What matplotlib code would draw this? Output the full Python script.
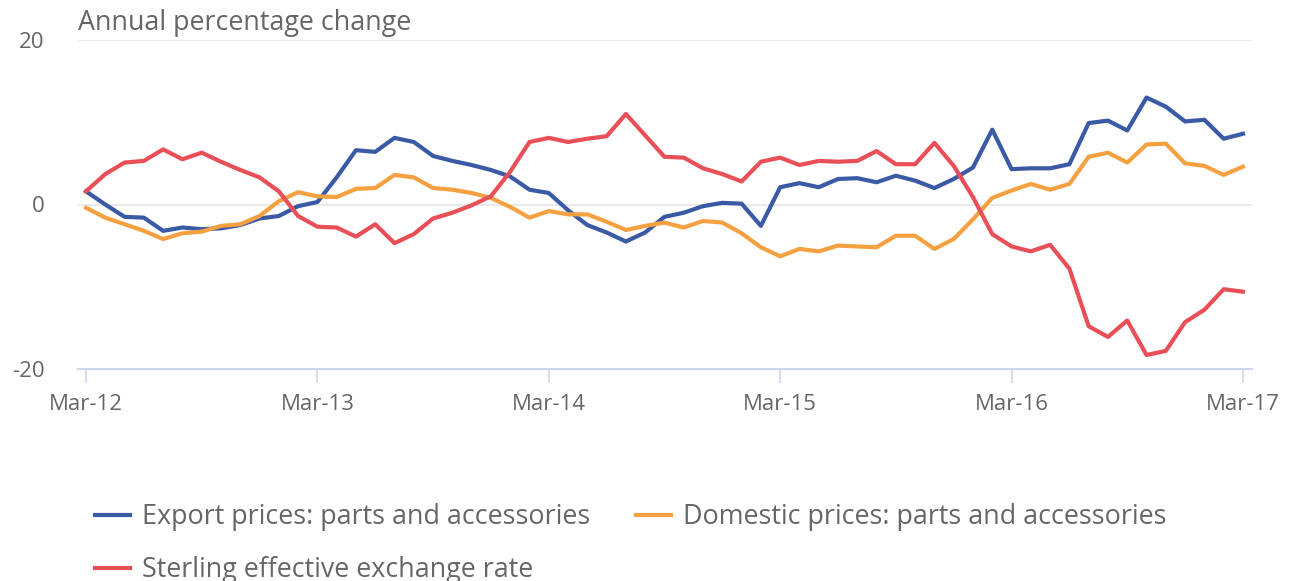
import matplotlib
matplotlib.use("Agg")
import matplotlib.pyplot as plt

plt.rcParams['font.family'] = ['Open Sans', 'DejaVu Sans']

tick_labels = ["Mar-12", "Mar-13", "Mar-14", "Mar-15", "Mar-16", "Mar-17"]

export_prices = [1.6, 0.0, -1.5, -1.6, -3.2, -2.8, -3.0, -2.9, -2.5, -1.7,
                 -1.4, -0.2, 0.3, 3.3, 6.6, 6.4, 8.1, 7.6, 5.9, 5.3,
                 4.8, 4.2, 3.4, 1.8, 1.4, -0.7, -2.5, -3.4, -4.5, -3.4,
                 -1.5, -1.0, -0.2, 0.2, 0.1, -2.6, 2.1, 2.6, 2.1, 3.1,
                 3.2, 2.7, 3.5, 2.9, 2.0, 3.1, 4.5, 9.1, 4.3, 4.4,
                 4.4, 4.9, 9.9, 10.2, 9.0, 13.0, 11.9, 10.1, 10.3, 8.0,
                 8.6]

domestic_prices = [-0.4, -1.6, -2.4, -3.2, -4.2, -3.5, -3.3, -2.6, -2.4, -1.4,
                   0.4, 1.5, 1.0, 0.9, 1.9, 2.0, 3.6, 3.3, 2.0, 1.8,
                   1.4, 0.8, -0.3, -1.6, -0.8, -1.2, -1.2, -2.1, -3.1, -2.6,
                   -2.2, -2.8, -2.0, -2.2, -3.5, -5.2, -6.3, -5.4, -5.7, -5.0,
                   -5.1, -5.2, -3.8, -3.8, -5.4, -4.2, -1.8, 0.8, 1.7, 2.5,
                   1.8, 2.5, 5.8, 6.3, 5.1, 7.3, 7.4, 5.0, 4.7, 3.6,
                   4.6]

sterling = [1.6, 3.7, 5.1, 5.3, 6.7, 5.5, 6.3, 5.2, 4.2, 3.3,
            1.6, -1.4, -2.7, -2.8, -3.9, -2.4, -4.7, -3.6, -1.7, -1.0,
            -0.1, 1.0, 4.0, 7.6, 8.1, 7.6, 8.0, 8.3, 11.0, 8.4,
            5.8, 5.7, 4.4, 3.7, 2.8, 5.2, 5.7, 4.8, 5.3, 5.2,
            5.3, 6.5, 4.9, 4.9, 7.5, 4.7, 0.9, -3.6, -5.1, -5.7,
            -4.9, -7.8, -14.8, -16.1, -14.1, -18.3, -17.8, -14.3, -12.8, -10.3,
            -10.6]

months = list(range(len(export_prices)))
text_color = '#666666'

fig = plt.figure(figsize=(12.93, 5.81), dpi=100)
ax = fig.add_axes([78 / 1293, 1 - 369 / 581, (1252 - 78) / 1293, (369 - 40) / 581])

l_exp, = ax.plot(months, export_prices, color='#3a5aa6', lw=3.0)
l_dom, = ax.plot(months, domestic_prices, color='#f5a142', lw=3.0)
l_ster, = ax.plot(months, sterling, color='#e84f57', lw=3.0)

ax.set_xlim(-0.415, 60.47)
ax.set_ylim(-20, 20)
ax.set_yticks([-20, 0, 20])
ax.set_yticklabels(["-20", "0", "20"])
ax.set_xticks(range(0, 61, 12))
ax.set_xticklabels(tick_labels)

ax.grid(axis='y', color='#e6e6e6', lw=1.2)
ax.set_axisbelow(True)
for side in ['top', 'right', 'left']:
    ax.spines[side].set_visible(False)
ax.spines['bottom'].set_color('#ccd6eb')
ax.spines['bottom'].set_linewidth(1.5)
ax.tick_params(axis='x', colors=text_color, labelsize=16, length=10, width=1.2,
               color='#ccd6eb', pad=8)
ax.tick_params(axis='y', colors=text_color, labelsize=16, length=0, pad=24)

fig.text(78 / 1293, 1 - 23 / 581, "Annual percentage change", color=text_color,
         fontsize=19.4, va='center', ha='left')

# column-major fill: put Sterling second so it lands on row 2
fig.legend([l_exp, l_ster, l_dom],
           ["Export prices: parts and accessories",
            "Sterling effective exchange rate",
            "Domestic prices: parts and accessories"],
           loc='upper left', bbox_to_anchor=(95 / 1293, 1 - 503 / 581), ncol=2,
           frameon=False, fontsize=19.4, labelcolor=text_color, handlelength=1.3,
           handletextpad=0.45, columnspacing=1.7, labelspacing=0.93, borderpad=0,
           borderaxespad=0)

fig.savefig("out.png", dpi=100)
